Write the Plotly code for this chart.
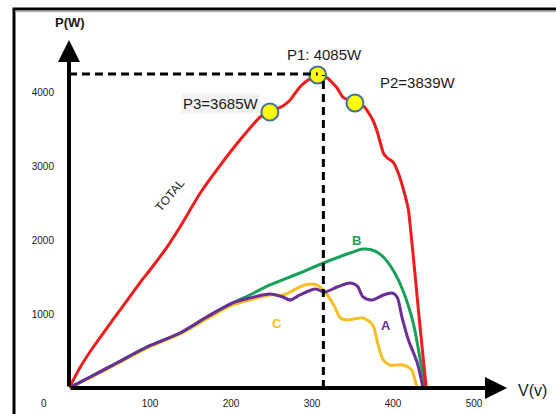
import plotly.graph_objects as go

# ---- data ----
total_v = [0, 14, 30, 54, 72, 90, 100, 121, 137, 162, 185, 211, 236, 248, 264, 273, 285, 295, 307,
           319, 331, 338, 353, 365, 375, 381, 388, 393, 400, 406, 412, 419, 423, 427, 433, 441]
total_p = [0, 284, 554, 919, 1189, 1459, 1595, 1905, 2176, 2635, 2986, 3351, 3662, 3730, 3811, 3892,
           4068, 4162, 4230, 4189, 4054, 3932, 3851, 3797, 3622, 3446, 3176, 3108, 3054, 2919,
           2716, 2405, 2000, 1554, 865, 0]

b_v = [0, 26, 59, 96, 137, 170, 202, 223, 248, 285, 314, 347, 363, 378, 388, 400, 412, 425, 433, 440]
b_p = [0, 149, 338, 554, 743, 959, 1149, 1257, 1392, 1554, 1689, 1824, 1878, 1851, 1770, 1595,
       1324, 878, 419, 0]

a_v = [0, 26, 59, 96, 137, 170, 202, 223, 248, 264, 273, 285, 304, 316, 331, 347, 356, 363, 374,
       388, 399, 405, 411, 419, 430, 437]
a_p = [0, 149, 338, 554, 743, 959, 1149, 1216, 1270, 1230, 1189, 1257, 1338, 1297, 1365, 1419,
       1378, 1230, 1189, 1257, 1284, 1230, 959, 649, 338, 0]

c_v = [0, 26, 59, 96, 137, 170, 202, 223, 248, 264, 273, 291, 306, 319, 328, 335, 343, 363, 375,
       381, 388, 396, 412, 423, 427, 430]
c_p = [0, 135, 324, 540, 730, 932, 1122, 1189, 1257, 1257, 1297, 1392, 1392, 1257, 1095, 946,
       919, 946, 851, 608, 378, 311, 311, 243, 108, 0]

peak_v = [248, 307, 353]
peak_p = [3730, 4230, 3851]
peak_labels = ["P3=3685W", "P1: 4085W", "P2=3839W"]

x_ticks = [100, 200, 300, 400, 500]
y_ticks = [1000, 2000, 3000, 4000]

mpp_v_line = 314   # vertical dashed line position
mpp_p_line = 4243  # horizontal dashed line level

X_MAX = 540.7
Y_MAX = 4702.7

RED = "#ee1c1c"
GREEN = "#16a05a"
PURPLE = "#6b2d96"
YELLOW = "#f7be25"

fig = go.Figure()

fig.add_trace(go.Scatter(x=c_v, y=c_p, mode="lines", line=dict(color=YELLOW, width=3, shape="spline", smoothing=0.8), hoverinfo="skip"))
fig.add_trace(go.Scatter(x=b_v, y=b_p, mode="lines", line=dict(color=GREEN, width=3, shape="spline", smoothing=0.8), hoverinfo="skip"))
fig.add_trace(go.Scatter(x=a_v, y=a_p, mode="lines", line=dict(color=PURPLE, width=3, shape="spline", smoothing=0.8), hoverinfo="skip"))
fig.add_trace(go.Scatter(x=total_v, y=total_p, mode="lines", line=dict(color=RED, width=3, shape="spline", smoothing=0.4), hoverinfo="skip"))

# dashed guides
fig.add_shape(type="line", x0=0, x1=peak_v[1], y0=mpp_p_line, y1=mpp_p_line, xref="x", yref="y",
              line=dict(color="black", width=3, dash="8px,5px"))
fig.add_shape(type="line", x0=mpp_v_line, x1=mpp_v_line, y0=0, y1=peak_p[1], xref="x", yref="y",
              line=dict(color="black", width=3, dash="8px,5px"))

fig.add_trace(go.Scatter(x=peak_v, y=peak_p, mode="markers",
                         marker=dict(size=17, color="#ffff00", line=dict(color="#41719c", width=2)),
                         cliponaxis=False, hoverinfo="skip"))

# axes with arrows
fig.add_annotation(x=X_MAX, y=0, ax=0, ay=0, xref="x", yref="y", axref="x", ayref="y",
                   showarrow=True, arrowhead=2, arrowsize=1.1, arrowwidth=4, arrowcolor="black", text="")
fig.add_annotation(x=0, y=Y_MAX, ax=0, ay=0, xref="x", yref="y", axref="x", ayref="y",
                   showarrow=True, arrowhead=2, arrowsize=1.1, arrowwidth=4, arrowcolor="black", text="")

# outer frame
W, H = 556, 414
L, R, T, B = 69, 49, 40, 26
pw, ph = W - L - R, H - T - B
def px(x):
    return (x - L) / pw
def py(y):
    return (H - B - y) / ph

fig.add_shape(type="rect", xref="paper", yref="paper", x0=px(14), x1=px(620), y0=py(460), y1=py(9),
              line=dict(color="black", width=3), layer="below")
fig.add_shape(type="line", xref="paper", yref="paper", x0=px(15), x1=px(620), y0=py(11.5), y1=py(11.5),
              line=dict(color="#b0b0b0", width=1.5), layer="below")

txt = dict(family="Liberation Sans, Arial, sans-serif", color="#1a1a1a")

def label(x, y, text, size, font=None, **kw):
    fig.add_annotation(x=px(x), y=py(y), xref="paper", yref="paper", text=text, showarrow=False,
                       xanchor="center", yanchor="middle", font=font or dict(size=size, **txt), **kw)

label(44, 403, "0", 10)
label(70, 22, "<b>P(W)</b>", 13)
label(532, 390, "V(v)", 16)
label(220, 103, peak_labels[0], 15, bgcolor="#f2f2f2")
label(324, 54, peak_labels[1], 15)
label(417, 82, peak_labels[2], 15)
label(170, 195, "TOTAL", 12, textangle=-50)
label(356, 240, "<b>B</b>", 13, font=dict(size=13, family="Liberation Sans, Arial", color=GREEN))
label(386, 325, "<b>A</b>", 13, font=dict(size=13, family="Liberation Sans, Arial", color=PURPLE))
label(277, 323, "<b>C</b>", 13, font=dict(size=13, family="Liberation Sans, Arial", color=YELLOW))

fig.update_xaxes(range=[0, X_MAX], tickvals=x_ticks, ticktext=[str(v) for v in x_ticks],
                 showgrid=False, zeroline=False, showline=False, ticks="", ticklabelstandoff=8,
                 tickfont=dict(size=10, **txt), fixedrange=True)
fig.update_yaxes(range=[0, Y_MAX], tickvals=y_ticks, ticktext=[str(v) for v in y_ticks],
                 showgrid=False, zeroline=False, showline=False, ticks="", ticklabelstandoff=14,
                 tickfont=dict(size=10, **txt), fixedrange=True)

fig.update_layout(width=W, height=H, margin=dict(l=L, r=R, t=T, b=B, autoexpand=False),
                  paper_bgcolor="white", plot_bgcolor="white", showlegend=False)

fig.write_html("out.html", config={"displayModeBar": False},
               post_script="document.body.style.margin='0px';document.body.style.overflow='hidden';")
